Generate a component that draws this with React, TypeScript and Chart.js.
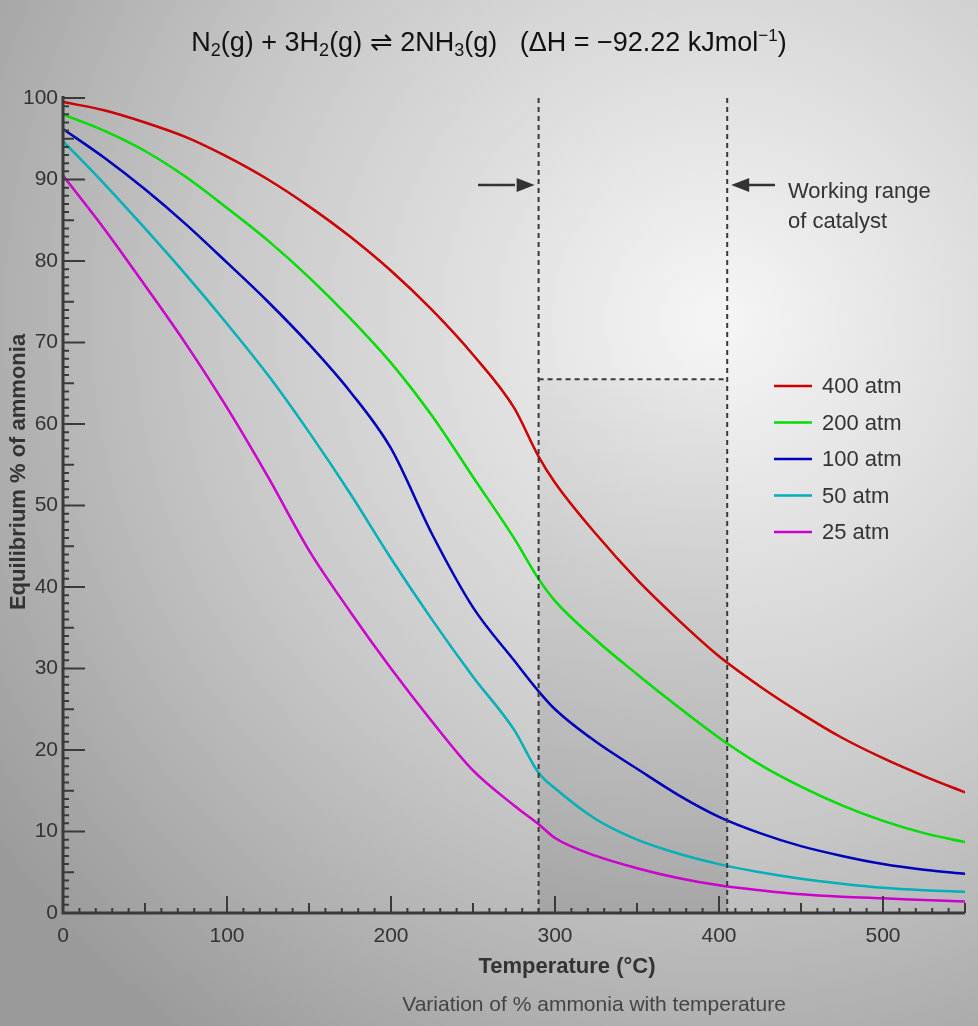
import React, { useEffect, useRef } from "react";
import { Chart, registerables } from "chart.js";
Chart.register(...registerables);

const temps = [0, 25, 50, 75, 100, 125, 150, 175, 200, 225, 250, 275, 290, 300, 325, 350, 375, 400, 425, 450, 475, 500, 525, 550];
const atm400 = [99.5, 98.5, 97, 95.2, 92.8, 90, 86.7, 83, 78.8, 74, 68.5, 62, 56, 52.8, 46.5, 40.9, 36, 31.5, 27.8, 24.5, 21.5, 19, 16.8, 14.8];
const atm200 = [98, 96, 93.5, 90.3, 86.5, 82.5, 78, 73, 67.5, 61, 53.5, 46, 41, 38.3, 33.5, 29.3, 25.3, 21.5, 18.2, 15.5, 13.2, 11.3, 9.8, 8.7];
const atm100 = [96.2, 92.7, 88.8, 84.5, 79.8, 75, 69.8, 64, 57, 46.5, 37.5, 31, 27.2, 25, 21, 17.7, 14.5, 11.8, 9.8, 8.2, 7, 6, 5.3, 4.8];
const atm50 = [94.7, 89.5, 84, 78.3, 72.3, 66, 59, 51.5, 43.5, 36, 29, 22.5, 17.2, 15.3, 11.5, 9, 7.3, 6, 5, 4.2, 3.6, 3.1, 2.8, 2.6];
const atm25 = [90.5, 84, 77, 69.8, 62, 53.5, 44.5, 37, 30, 23.5, 17.5, 13.2, 10.9, 9.2, 7, 5.5, 4.3, 3.4, 2.8, 2.3, 2, 1.8, 1.6, 1.4];
const seriesNames = ["400 atm", "200 atm", "100 atm", "50 atm", "25 atm"];
const seriesColors = ["#cc0000", "#00dd00", "#0000bb", "#00b0b8", "#cc00cc"];
const xTicks = [0, 100, 200, 300, 400, 500];
const yTicks = [0, 10, 20, 30, 40, 50, 60, 70, 80, 90, 100];
const rangeLo = 290, rangeHi = 405, rangeTop = 65.5;

const overlay = {
  id: "overlay",
  beforeDraw(chart: any) {
    const { ctx, width, height } = chart;
    const g = ctx.createRadialGradient(720, 320, 20, 720, 320, 900);
    g.addColorStop(0, "#f4f4f4");
    g.addColorStop(0.55, "#c8c8c8");
    g.addColorStop(1, "#9a9a9a");
    ctx.save();
    ctx.fillStyle = g;
    ctx.fillRect(0, 0, width, height);
    const xs = chart.scales.x, ys = chart.scales.y;
    const x1 = xs.getPixelForValue(rangeLo), x2 = xs.getPixelForValue(rangeHi);
    const yt = ys.getPixelForValue(rangeTop), yb = ys.getPixelForValue(0);
    const sg = ctx.createLinearGradient(0, yt, 0, yb);
    sg.addColorStop(0, "rgba(0,0,0,0.04)");
    sg.addColorStop(1, "rgba(0,0,0,0.12)");
    ctx.fillStyle = sg;
    ctx.fillRect(x1, yt, x2 - x1, yb - yt);
    ctx.restore();
  },
  afterDraw(chart: any) {
    const { ctx } = chart;
    const xs = chart.scales.x, ys = chart.scales.y;
    const L = xs.getPixelForValue(0), B = ys.getPixelForValue(0);
    const R = xs.getPixelForValue(550), T = ys.getPixelForValue(100);
    ctx.save();
    ctx.strokeStyle = "#3a3a3a";
    ctx.fillStyle = "#3a3a3a";
    ctx.setLineDash([5, 4]);
    ctx.lineWidth = 2;
    const x1 = xs.getPixelForValue(rangeLo), x2 = xs.getPixelForValue(rangeHi);
    const yt = ys.getPixelForValue(rangeTop);
    ctx.beginPath();
    ctx.moveTo(x1, T); ctx.lineTo(x1, B);
    ctx.moveTo(x2, T); ctx.lineTo(x2, B);
    ctx.moveTo(x1, yt); ctx.lineTo(x2, yt);
    ctx.stroke();
    ctx.setLineDash([]);
    ctx.lineWidth = 3;
    ctx.beginPath();
    ctx.moveTo(L, T - 2); ctx.lineTo(L, B); ctx.lineTo(R, B);
    ctx.stroke();
    ctx.lineWidth = 2;
    ctx.beginPath();
    for (let v = 1; v <= 100; v++) {
      const p = ys.getPixelForValue(v);
      const len = v % 10 === 0 ? 22 : v % 5 === 0 ? 11 : 6;
      ctx.moveTo(L, p); ctx.lineTo(L + len, p);
    }
    for (let v = 10; v <= 550; v += 10) {
      const p = xs.getPixelForValue(v);
      const len = v % 100 === 0 ? 17 : v % 50 === 0 ? 10 : 5;
      ctx.moveTo(p, B); ctx.lineTo(p, B - len);
    }
    ctx.stroke();
    ctx.font = "21px 'Liberation Sans', Arial, sans-serif";
    ctx.fillStyle = "#333";
    ctx.textAlign = "right"; ctx.textBaseline = "middle";
    yTicks.forEach((v) => ctx.fillText(String(v), L - 5, ys.getPixelForValue(v)));
    ctx.textAlign = "center"; ctx.textBaseline = "top";
    xTicks.forEach((v) => ctx.fillText(String(v), xs.getPixelForValue(v), B + 13));
    ctx.font = "bold 22px 'Liberation Sans', Arial, sans-serif";
    ctx.textBaseline = "middle";
    ctx.fillText("Temperature (\u00B0C)", 567, 967);
    ctx.save();
    ctx.translate(19, 472); ctx.rotate(-Math.PI / 2);
    ctx.fillText("Equilibrium % of ammonia", 0, 0);
    ctx.restore();
    ctx.font = "21px 'Liberation Sans', Arial, sans-serif";
    ctx.fillStyle = "#444";
    ctx.fillText("Variation of % ammonia with temperature", 594, 1005);
    ctx.strokeStyle = "#333"; ctx.fillStyle = "#333"; ctx.lineWidth = 2.5;
    const ay = 185;
    ctx.beginPath(); ctx.moveTo(478, ay); ctx.lineTo(515, ay); ctx.stroke();
    ctx.beginPath(); ctx.moveTo(x1 - 4, ay); ctx.lineTo(x1 - 22, ay - 7); ctx.lineTo(x1 - 22, ay + 7); ctx.fill();
    ctx.beginPath(); ctx.moveTo(775, ay); ctx.lineTo(742, ay); ctx.stroke();
    ctx.beginPath(); ctx.moveTo(x2 + 4, ay); ctx.lineTo(x2 + 22, ay - 7); ctx.lineTo(x2 + 22, ay + 7); ctx.fill();
    ctx.font = "22px 'Liberation Sans', Arial, sans-serif";
    ctx.fillStyle = "#333";
    ctx.textAlign = "left";
    ctx.fillText("Working range", 788, 192);
    ctx.fillText("of catalyst", 788, 222);
    ctx.font = "22px 'Liberation Sans', Arial, sans-serif";
    seriesNames.forEach((n, i) => {
      const y = 386 + i * 36.5;
      ctx.strokeStyle = seriesColors[i]; ctx.lineWidth = 2.5;
      ctx.beginPath(); ctx.moveTo(774, y); ctx.lineTo(812, y); ctx.stroke();
      ctx.fillStyle = "#333";
      ctx.fillText(n, 822, y + 1);
    });
    ctx.restore();
  },
};

export default function App() {
  const ref = useRef<HTMLCanvasElement>(null);
  useEffect(() => {
    document.body.style.margin = "0";
    const all = [atm400, atm200, atm100, atm50, atm25];
    const chart = new Chart(ref.current!, {
      type: "line",
      data: {
        datasets: all.map((d, i) => ({
          label: seriesNames[i],
          data: d.map((y, j) => ({ x: temps[j], y })),
          borderColor: seriesColors[i],
          borderWidth: 2.5,
          pointRadius: 0,
          cubicInterpolationMode: "monotone" as const,
          fill: false,
        })),
      },
      options: {
        animation: false,
        responsive: false,
        layout: { padding: { left: 63, right: 13, top: 98, bottom: 113 } },
        plugins: { legend: { display: false }, tooltip: { enabled: false } },
        scales: {
          x: { type: "linear", min: 0, max: 550, display: false },
          y: { min: 0, max: 100, display: false },
        },
      },
      plugins: [overlay],
    });
    return () => chart.destroy();
  }, []);
  const sub = { fontSize: "18px", verticalAlign: "-5px" } as const;
  return (
    <div style={{ position: "relative", width: 978, height: 1026 }}>
      <canvas ref={ref} width={978} height={1026} style={{ display: "block" }} />
      <div style={{ position: "absolute", top: 26, left: 0, width: 978, textAlign: "center", font: "27px 'Liberation Sans', Arial, sans-serif", color: "#111", whiteSpace: "pre" }}>
        N<span style={sub}>2</span>(g) + 3H<span style={sub}>2</span>(g) ⇌ 2NH<span style={sub}>3</span>(g)   (ΔH = −92.22 kJmol<sup style={{ fontSize: "17px" }}>−1</sup>)
      </div>
    </div>
  );
}
